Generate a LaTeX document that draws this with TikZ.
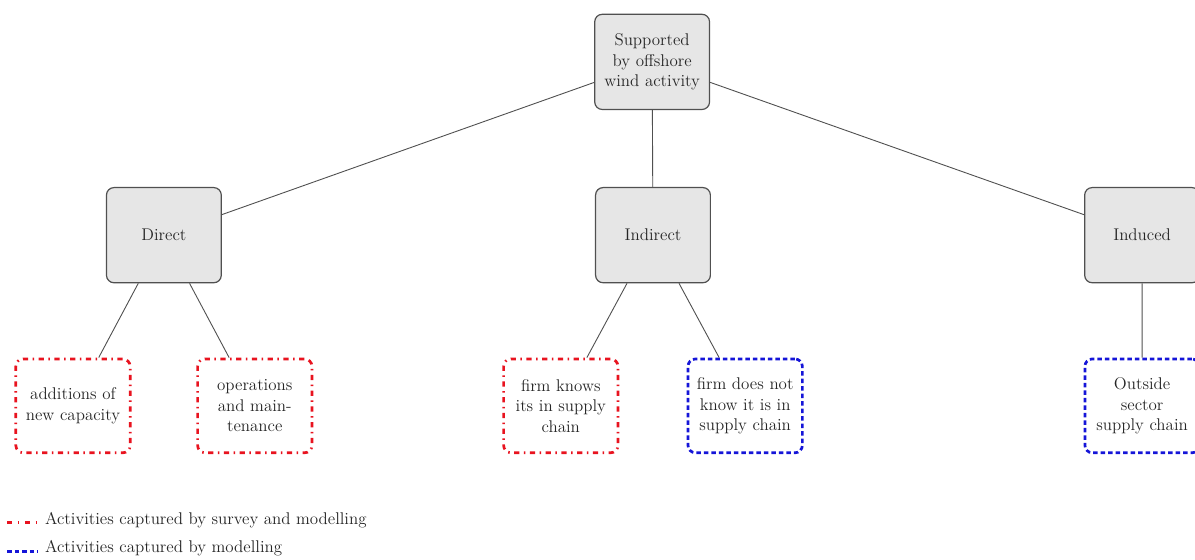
\documentclass[tikz,border=0pt]{standalone}
\usepackage{tikz}

\definecolor{boxfill}{HTML}{E6E6E6}
\definecolor{boxline}{HTML}{505050}
\definecolor{surveyred}{HTML}{E8131F}
\definecolor{modelblue}{HTML}{1515D8}

\begin{document}
\begin{tikzpicture}[
    font=\fontsize{11.3}{13.6}\selectfont,
    level/.style={draw=boxline, fill=boxfill, line width=0.8pt, rounded corners=5pt,
      minimum width=2.69cm, minimum height=2.23cm, text width=2.55cm, inner sep=0.05cm,
      align=center, text=black!85},
    survey/.style={draw=surveyred, line width=1.8pt, rounded corners=5pt,
      dash pattern=on 3.5pt off 3pt on 1pt off 3pt, fill=white,
      minimum width=2.68cm, minimum height=2.2cm, text width=2.55cm, inner sep=0.05cm,
      align=center, text=black!85},
    model/.style={survey, draw=modelblue, dash pattern=on 3pt off 2pt},
    link/.style={draw=boxline, line width=0.6pt}
  ]
    \useasboundingbox (0,0) rectangle (28,13.12);
    \node[level] (all) at (15.28,11.67) {Supported\\by offshore\\wind activity};
    \node[level] (direct) at (3.84,7.61) {Direct};
    \node[level] (indirect) at (15.30,7.61) {Indirect};
    \node[level] (induced) at (26.76,7.61) {Induced};
    \node[survey] (additions) at (1.71,3.61) {additions of\\new capacity};
    \node[survey] (operations) at (5.97,3.61) {operations\\and main-\\tenance};
    \node[survey] (knows) at (13.14,3.61) {firm knows\\its in supply\\chain};
    \node[model] (unaware) at (17.46,3.61) {firm does not\\know it is in\\supply chain};
    \node[model] (outside) at (26.76,3.61) {Outside\\sector\\supply chain};
    \draw[link] (direct) -- (all) -- (induced)
    (all) -- (indirect)
    (additions) -- (direct) -- (operations)
    (knows) -- (indirect) -- (unaware)
    (induced) -- (outside);
    % legend
    \coordinate (r1) at (0.17,0.88);
    \coordinate (r2) at (0.89,0.88);
    \coordinate (b1) at (0.17,0.2);
    \coordinate (b2) at (0.89,0.2);
    \draw[surveyred, line width=1.8pt, dash pattern=on 3pt off 4pt on 1pt off 4pt] (r1) -- (r2);
    \draw[modelblue, line width=1.8pt, dash pattern=on 3pt off 2pt] (b1) -- (b2);
    \node[anchor=base west, inner sep=0pt, text=black!85] (surveytext) at (1.05,0.84) {Activities captured by survey and modelling};
    \node[anchor=base west, inner sep=0pt, text=black!85] (modeltext) at (1.05,0.17) {Activities captured by modelling};
  \end{tikzpicture}
\end{document}
